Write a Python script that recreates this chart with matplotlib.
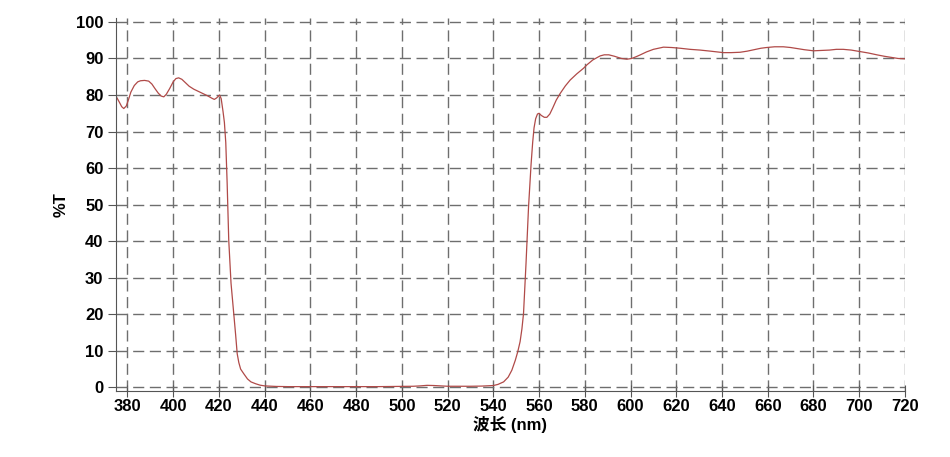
import matplotlib
matplotlib.use("Agg")
import matplotlib.pyplot as plt

# wavelength (nm) and transmittance (%T)
wavelength = [375, 376.5, 377.5, 378.4, 379.5, 380.5, 381.5, 383, 384.5, 385.7, 387.5, 389.3,
              390.7, 392, 393.5, 394.8, 395.9, 397, 398.5, 400, 401.2, 402.4, 403.8, 405.5,
              407, 409, 411, 413, 415, 417, 418, 419, 420.3, 421, 421.8, 422.4, 423, 423.6,
              424.3, 425.3, 426.5, 427.3, 428, 428.7, 429.5, 430.9, 432.5, 434, 436, 438,
              440, 445, 450, 470, 490, 505, 508, 511, 514, 517, 520, 525, 530, 535, 538,
              540, 542, 544.5, 546.5, 548.1, 549.6, 550.7, 551.7, 552.5, 553.2, 554.3,
              555.4, 556.5, 557.2, 557.8, 558.5, 559.3, 560, 561, 562.3, 563.4, 564.7, 566,
              567.5, 569.2, 571.5, 573.6, 576.5, 579.4, 581, 583.5, 586.7, 588.5, 590.5,
              593, 596, 598.4, 600.5, 602.5, 604.3, 607, 610, 614.4, 618, 621.7, 626,
              630.4, 635, 640.6, 644, 647.9, 651, 654, 657, 659.5, 663, 666.8, 670, 673,
              676, 680, 684, 687, 690, 693, 696.5, 700.4, 704, 707.7, 711, 714, 717, 720]
transmittance = [79.7, 78.0, 76.8, 76.3, 77.0, 78.8, 80.8, 82.6, 83.6, 83.9, 84.0, 83.8,
                 83.0, 81.8, 80.5, 79.7, 79.5, 80.2, 81.8, 83.6, 84.5, 84.7, 84.3, 83.3,
                 82.4, 81.6, 81.0, 80.4, 79.8, 79.1, 78.8, 79.2, 80.0, 79.0, 75.5, 72.5, 67.0,
                 56.0, 40.3, 28.5, 20.2, 14.5, 9.2, 6.8, 5.0, 3.7, 2.3, 1.5, 1.0, 0.6,
                 0.4, 0.25, 0.2, 0.2, 0.2, 0.3, 0.4, 0.55, 0.5, 0.4, 0.3, 0.3, 0.3, 0.35,
                 0.45, 0.5, 0.8, 1.5, 2.8, 4.7, 7.4, 9.8, 12.5, 16.0, 20.2, 34.0, 49.4,
                 61.0, 67.0, 71.0, 73.5, 74.8, 75.0, 74.4, 73.9, 73.9, 74.8, 76.5, 78.6,
                 80.4, 82.5, 84.1, 85.8, 87.3, 88.3, 89.6, 90.7, 91.0, 91.0, 90.6, 90.0,
                 89.8, 90.0, 90.5, 91.0, 91.8, 92.5, 93.1, 93.0, 92.8, 92.5, 92.3, 92.0,
                 91.6, 91.6, 91.7, 92.0, 92.4, 92.8, 93.0, 93.2, 93.2, 93.0, 92.7, 92.4,
                 92.1, 92.2, 92.3, 92.5, 92.5, 92.3, 91.9, 91.5, 91.0, 90.6, 90.3, 90.0,
                 89.9]

x_ticks = list(range(380, 721, 20))
y_ticks = list(range(0, 101, 10))

plt.rcParams["font.family"] = ["Liberation Sans", "Noto Sans CJK SC"]

fig = plt.figure(figsize=(9.5, 4.57), dpi=100)
ax = fig.add_axes([0.1221, 0.1444, 0.8305, 0.8156])

ax.plot(wavelength, transmittance, color="#b04a48", lw=0.9)

ax.set_xlim(375, 720)
ax.set_ylim(-1, 101)
ax.set_xticks(x_ticks)
ax.set_yticks(y_ticks)
ax.grid(True, color="#6e6e6e", linestyle=(0, (8, 4)), lw=1.0)
ax.set_axisbelow(True)

for side in ("top", "right"):
    ax.spines[side].set_visible(False)
for side in ("left", "bottom"):
    ax.spines[side].set_color("#555555")
    ax.spines[side].set_linewidth(0.8)

ax.tick_params(axis="x", direction="inout", length=8, width=0.8, color="#555555",
               labelsize=12, pad=2)
ax.tick_params(axis="y", direction="out", length=6, width=0.8, color="#555555",
               labelsize=12, pad=3)
for lab in ax.get_xticklabels() + ax.get_yticklabels():
    lab.set_fontweight("bold")

ax.set_xlabel("波长 (nm)", fontsize=12, fontweight="bold", labelpad=1)
ax.set_ylabel("%T", fontsize=12, fontweight="bold", labelpad=5)

fig.savefig("out.png", dpi=100)
